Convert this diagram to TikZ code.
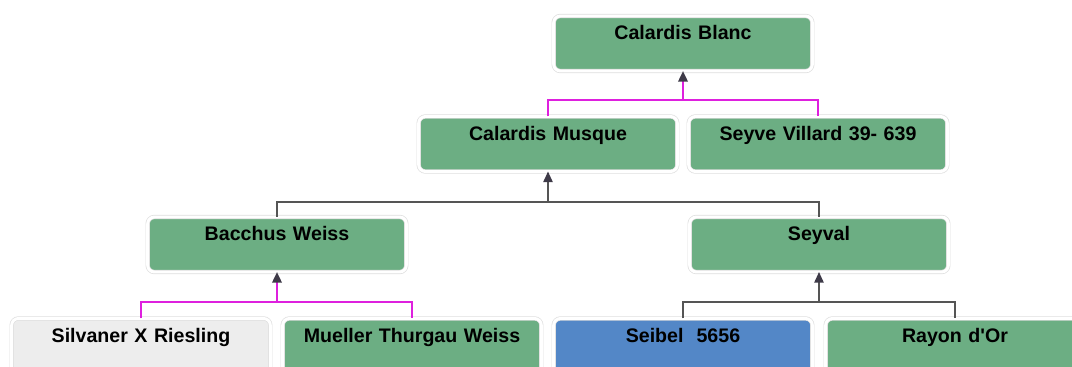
\documentclass[tikz,border=0pt]{standalone}
\usepackage{fontspec}
\setmainfont{Liberation Sans}
\usepackage{xcolor}
\usetikzlibrary{
	arrows.meta,
	calc
}

\definecolor{vgreen}{RGB}{108,174,131}
\definecolor{vblue}{RGB}{83,135,199}
\definecolor{vgrey}{RGB}{237,237,237}
\definecolor{vpink}{RGB}{222,32,222}
\definecolor{vline}{RGB}{85,85,85}
\definecolor{vtip}{RGB}{62,58,72}

\tikzset{
	vine/.style={rectangle, rounded corners=5pt, draw=black!13, line width=0.5pt,
		double=white, double distance=2.2pt, inner sep=0pt, outer sep=0pt,
		text width=194pt, align=center, text height=18pt, text depth=23.25pt,
		font=\fontsize{14.7}{17}\selectfont\bfseries},
	green/.style={vine, fill=vgreen},
	blue/.style={vine, fill=vblue},
	grey/.style={vine, fill=vgrey},
	pinkline/.style={vpink, line width=1.8pt},
	darkline/.style={vline, line width=1.2pt},
	up/.style={-{Triangle[length=8pt,width=7pt,color=vtip]}}
}

\begin{document}
\begin{tikzpicture}[x=0.75pt, y=-0.75pt]
	\useasboundingbox (0,0) rectangle (1072,367);
	\clip (0,0) rectangle (1072,367);
	
	% cultivars
	\node[green] (blanc)    at (683,43.5)  {Calardis Blanc};
	\node[green] (musque)   at (548,144)   {Calardis Musque};
	\node[green] (seyve)    at (818,144)   {Seyve Villard 39- 639};
	\node[green] (bacchus)  at (277,244.5) {Bacchus Weiss};
	\node[green] (seyval)   at (819,244.5) {Seyval};
	\node[grey]  (silvaner) at (141,346)   {Silvaner X Riesling};
	\node[green] (mueller)  at (412,346)   {Mueller Thurgau Weiss};
	\node[blue]  (seibel)   at (683,346)   {Seibel\ \ 5656};
	\node[green] (rayon)    at (955,346)   {Rayon d\textquotesingle Or};
	
	% parent links
	\coordinate (j1) at (blanc.south |- 0,100);
	\draw[pinkline] (musque.north) |- (j1) -| (seyve.north);
	\draw[pinkline, up] (j1) -- (blanc.south);
	
	\coordinate (j2) at (musque.south |- 0,202);
	\draw[darkline] (bacchus.north) |- (j2) -| (seyval.north);
	\draw[darkline, up] (j2) -- (musque.south);
	
	\coordinate (j3) at (bacchus.south |- 0,302);
	\draw[pinkline] (silvaner.north) |- (j3) -| (mueller.north);
	\draw[pinkline, up] (j3) -- (bacchus.south);
	
	\coordinate (j4) at (seyval.south |- 0,302);
	\draw[darkline] (seibel.north) |- (j4) -| (rayon.north);
	\draw[darkline, up] (j4) -- (seyval.south);
\end{tikzpicture}
\end{document}
